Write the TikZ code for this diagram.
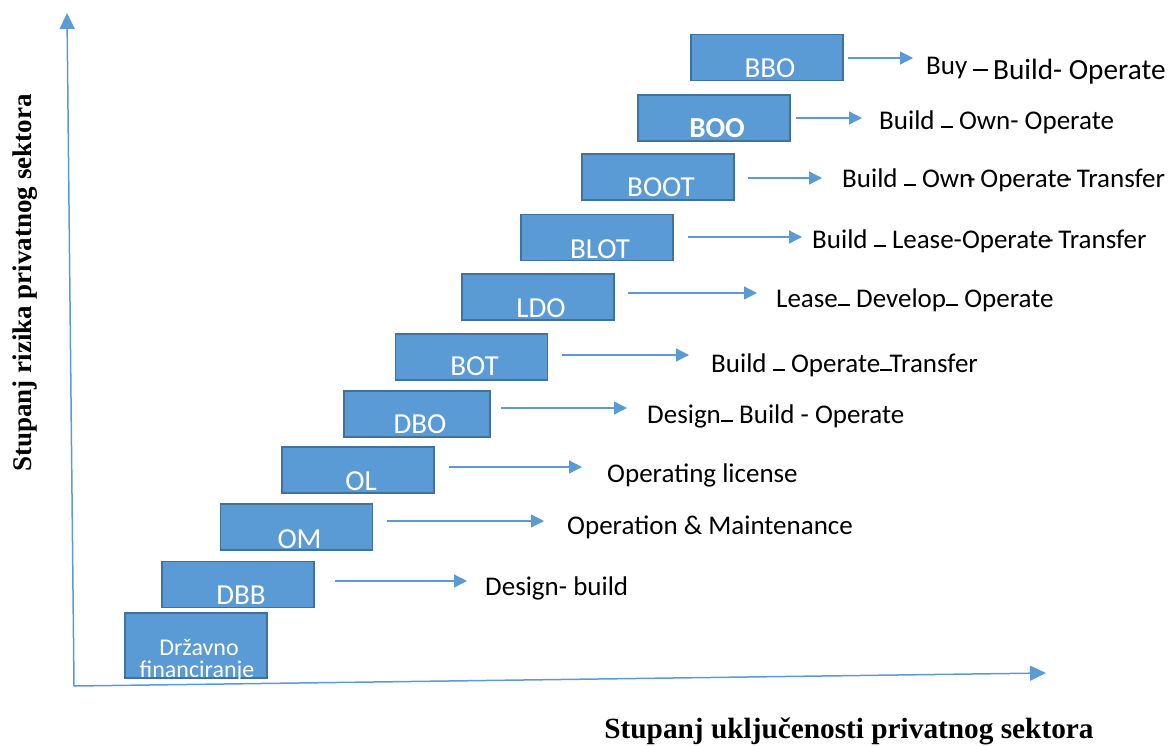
\documentclass[tikz,border=0pt]{standalone}
\usepackage{fontspec}
\setmainfont{Carlito}
\newfontfamily\timesf{Liberation Serif}
\usetikzlibrary{arrows.meta,calc}
\definecolor{boxfill}{HTML}{5B9BD5}
\definecolor{boxline}{HTML}{41719C}
\newcommand\ldash{\rule[1.5pt]{0.45em}{1.5pt}}
\newcommand\sqh{\kern-0.22em-\kern-0.05em}
\tikzset{
  stepbox/.style={draw=boxline, fill=boxfill, line width=1.4pt, minimum width=152pt, minimum height=46pt, inner sep=0pt},
  boxtxt/.style={text=white, font=\fontsize{29}{29}\selectfont, anchor=base, inner sep=0pt},
  lbl/.style={font=\fontsize{27}{27}\selectfont, anchor=base west, inner sep=0pt},
  arr/.style={draw=boxfill, line width=1.3pt, -{Triangle[length=13pt,width=13pt]}},
  axis/.style={draw=boxfill, line width=1.5pt, -{Triangle[length=16pt,width=15pt]}},
  axlbl/.style={font=\timesf\bfseries\fontsize{27}{27}\selectfont, inner sep=0pt}
}
\begin{document}
\begin{tikzpicture}[x=1pt,y=-1pt]
\useasboundingbox (0,0) rectangle (1169,745);
% axes
\coordinate (o) at (74,686);
\coordinate (ytop) at (67,13);
\coordinate (xend) at (1046,673);
\draw[axis] (o) -- (ytop);
\draw[axis] (o) -- (xend);
\node[axlbl, rotate=90] (ylab) at (25,283) {Stupanj rizika privatnog sektora};
\node[axlbl, anchor=base, font=\timesf\bfseries\fontsize{29.3}{29.3}\selectfont] (xlab) at (849,738) {Stupanj uključenosti privatnog sektora};
% boxes
\node[stepbox] (bbo) at (767,57.5) {};
\node[stepbox] (boo) at (714,118) {};
\node[stepbox] (boot) at (658,177) {};
\node[stepbox] (blot) at (597,237.5) {};
\node[stepbox] (ldo) at (538,297) {};
\node[stepbox] (bot) at (471.5,357) {};
\node[stepbox, minimum width=146pt] (dbo) at (417,414) {};
\node[stepbox] (ol) at (358,470) {};
\node[stepbox] (om) at (296.5,527) {};
\node[stepbox] (dbb) at (238,584.5) {};
\node[stepbox, minimum width=142pt, minimum height=65pt] (drz) at (196,645.5) {};
% box texts
\node[boxtxt] (tbbo) at ($(bbo.south)+(3,-4)$) {BBO};
\node[boxtxt] (tboo) at ($(boo.south)+(3,-4.5)$) {\bfseries BOO};
\node[boxtxt] (tboot) at ($(boot.south)+(3,-4)$) {BOOT};
\node[boxtxt] (tblot) at ($(blot.south)+(3,-3)$) {BLOT};
\node[boxtxt] (tldo) at ($(ldo.south)+(3,-3.5)$) {LDO};
\node[boxtxt] (tbot) at ($(bot.south)+(3,-5)$) {BOT};
\node[boxtxt] (tdbo) at ($(dbo.south)+(3,-4)$) {DBO};
\node[boxtxt] (tol) at ($(ol.south)+(3,-3)$) {OL};
\node[boxtxt] (tom) at ($(om.south)+(3,-2)$) {OM};
\node[boxtxt] (tdbb) at ($(dbb.south)+(3,-4)$) {DBB};
\node[boxtxt, font=\fontsize{24}{24}\selectfont] (tdrz1) at (199,655) {Državno};
\node[boxtxt, font=\fontsize{24}{24}\selectfont] (tdrz2) at (197,677) {financiranje};
% labels
\node[lbl] (lbbo) at (926,74) {Buy\kern0.2em\raisebox{3.5pt}{\rule{15pt}{1.6pt}}\kern0.2em{\fontsize{29.3}{29.3}\selectfont\raisebox{-5pt}{Build- Operate}}};
\node[lbl] (lboo) at (879,129) {Build \ldash{} Own- Operate};
\node[lbl] (lboot) at (842,187) {Build \ldash{} Own\sqh{} Operate\sqh{} Transfer};
\node[lbl] (lblot) at (812,248) {Build \ldash{} Lease-Operate\sqh{} Transfer};
\node[lbl] (lldo) at (776,307) {Lease\ldash{} Develop\ldash{} Operate};
\node[lbl] (lbot) at (711,372) {Build \ldash{} Operate\ldash\kern-0.1em Transfer};
\node[lbl] (ldbo) at (647,423) {Design\ldash{} Build - Operate};
\node[lbl] (lol) at (607,482) {Operating license};
\node[lbl] (lom) at (567,534) {Operation \& Maintenance};
\node[lbl] (ldbb) at (485,595) {Design- build};
% arrow ends
\coordinate (e1) at (913,58);
\coordinate (e2) at (862,118);
\coordinate (e3) at (822,178);
\coordinate (e4) at (802,237);
\coordinate (e5) at (757,293);
\coordinate (e6) at (689,355);
\coordinate (e7) at (627,408);
\coordinate (e8) at (582,467);
\coordinate (e9) at (544,521);
\coordinate (e10) at (467,581);
\draw[arr] (bbo.east |- e1) ++(4,0) -- (e1);
\draw[arr] (boo.east |- e2) ++(5,0) -- (e2);
\draw[arr] (boot.east |- e3) ++(13,0) -- (e3);
\draw[arr] (blot.east |- e4) ++(14,0) -- (e4);
\draw[arr] (ldo.east |- e5) ++(13,0) -- (e5);
\draw[arr] (bot.east |- e6) ++(14,0) -- (e6);
\draw[arr] (dbo.east |- e7) ++(10,0) -- (e7);
\draw[arr] (ol.east |- e8) ++(14,0) -- (e8);
\draw[arr] (om.east |- e9) ++(14,0) -- (e9);
\draw[arr] (dbb.east |- e10) ++(20,0) -- (e10);
\end{tikzpicture}
\end{document}
